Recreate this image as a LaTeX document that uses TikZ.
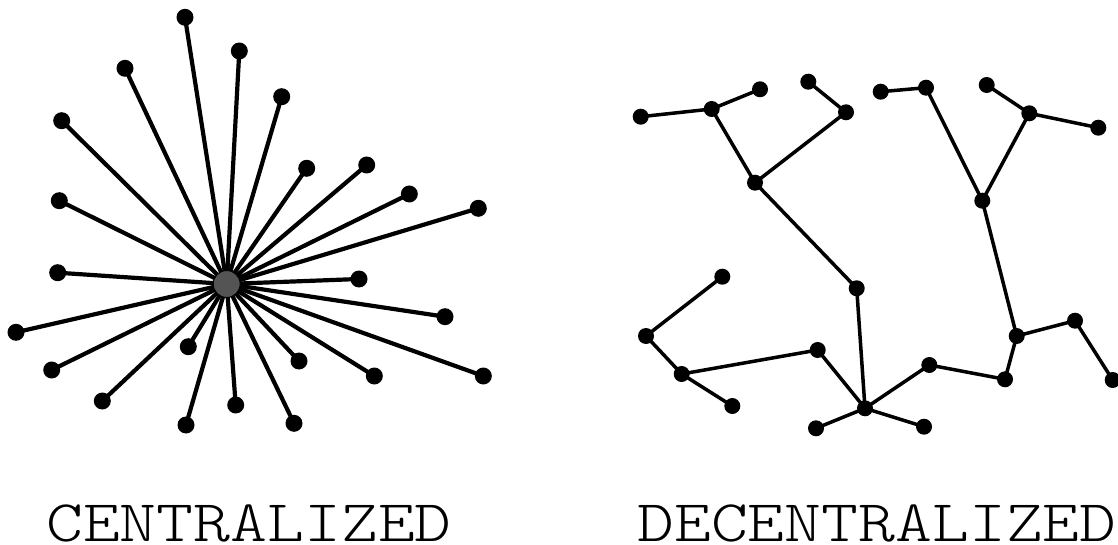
\documentclass[tikz,border=0pt]{standalone}
\usepackage{graphicx}
\usepackage{fontspec}
\newfontfamily\lightmono{Latin Modern Mono Light}
\begin{document}
\begin{tikzpicture}[x=1pt,y=-1pt,
  leaf/.style={circle,fill=black,inner sep=0pt,minimum size=17pt},
  dleaf/.style={circle,fill=black,inner sep=0pt,minimum size=16pt},
  hub/.style={circle,fill=black!67,draw=black,line width=1pt,inner sep=0pt,minimum size=27pt},
  spoke/.style={line width=4.2pt},
  link/.style={line width=3.5pt},
  caption/.style={font=\lightmono\fontsize{59}{59}\selectfont,anchor=base,inner sep=0pt,text depth=0pt}]
\clip (0,0) rectangle (1118,545);
\useasboundingbox (0,0) rectangle (1118,545);
% centralized
\coordinate (c) at (226.7,284);
\foreach \n/\x/\y in {1/185/17.3, 2/239.3/51, 3/125/68.3, 4/281.7/96.7, 5/61.7/120.7,
  6/306.7/168.3, 7/366.7/165, 8/409.3/194, 9/478.3/208.3, 10/59.3/200.7,
  11/57.7/272.7, 12/359/279, 13/445/316.7, 14/16/332.3, 15/51.7/370,
  16/188.3/346.7, 17/299/361, 18/374.3/376, 19/483.3/376, 20/102.3/401,
  21/235.7/405, 22/186/425, 23/294/423.3} {
  \node[leaf] (s\n) at (\x,\y) {};
  \draw[spoke] (c) -- (s\n.center);
}
\node[hub] (hub) at (c) {};
% decentralized
\foreach \n/\x/\y in {a/640.7/116.7, b/711.7/109, c/760/89.3, d/808.3/81.7, e/846/112.3,
  f/755/182.7, g/880.7/91.7, h/926/87.7, i/986.7/85, j/1029.3/113.3, k/1098.3/127.7,
  l/982.3/200.7, m/856.7/288.3, n/722.3/276.7, o/646/336, p/817.7/350, q/681.7/374,
  r/732.3/406, s/865/408.3, t/816/428.3, u/924/426.7, v/929.3/365, w/1005/379.3,
  x/1016.7/336, y/1075/320.7, z/1112.7/380} {
  \node[dleaf] (d\n) at (\x,\y) {};
}
\foreach \p/\q in {a/b, b/c, b/f, f/e, e/d, f/m, m/s, g/h, h/l, l/j, j/i, j/k, l/x,
  x/y, y/z, x/w, w/v, v/s, s/p, s/t, s/u, n/o, o/q, q/p, q/r} {
  \draw[link] (d\p.center) -- (d\q.center);
}
\node[caption] (cen) at (249,541) {\scalebox{1.19}[1]{CENTRALIZED}};
\node[caption] (dec) at (877,541) {\scalebox{1.19}[1]{DECENTRALIZED}};
\end{tikzpicture}
\end{document}
